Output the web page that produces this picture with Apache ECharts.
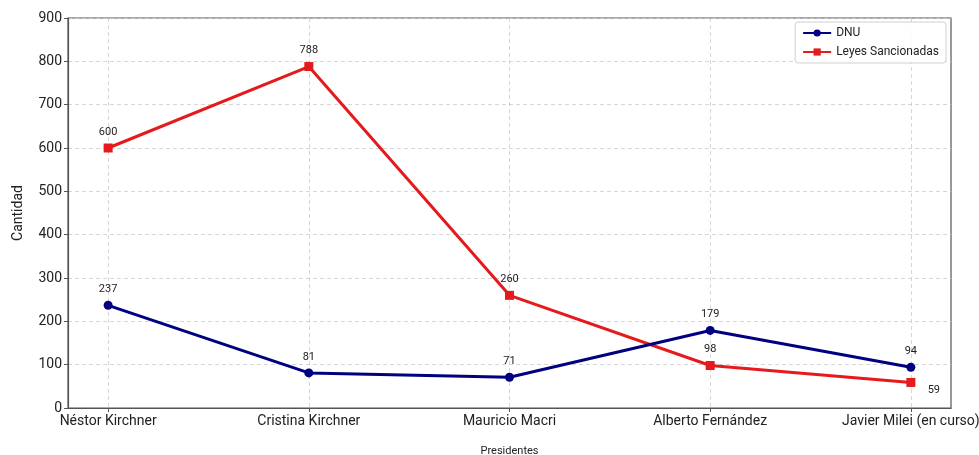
<!DOCTYPE html>
<html><head><meta charset="utf-8">
<script src="https://cdn.jsdelivr.net/npm/echarts@6/dist/echarts.min.js"></script>
<style>html,body{margin:0;padding:0;background:#fff}#c{width:979px;height:455px}</style>
</head><body><div id="c"></div>
<script>
const categories = ['Néstor Kirchner','Cristina Kirchner','Mauricio Macri','Alberto Fernández','Javier Milei (en curso)'];
const dnu = [237, 81, 71, 179, 94];
const leyes = [600, 788, 260, 98, 59];
const yTicks = [0,100,200,300,400,500,600,700,800,900];

const FONT = 'Roboto';
const chart = echarts.init(document.getElementById('c'));
const idx = categories.map((_, i) => i);
chart.setOption({
  animation: false,
  textStyle: {fontFamily: FONT},
  grid: {left: 68, right: 28, top: 18, bottom: 47, show: true, borderColor: '#555', borderWidth: 1.2, containLabel: false, outerBoundsMode: 'none'},
  legend: {
    right: 33, top: 22, orient: 'vertical',
    data: ['DNU', 'Leyes Sancionadas'],
    itemWidth: 28, itemHeight: 9, itemGap: 7,
    textStyle: {fontFamily: FONT, fontSize: 12, color: '#222'},
    borderColor: '#d0d0d0', borderWidth: 1, borderRadius: 3, padding: [5, 7, 5, 7],
    backgroundColor: 'rgba(255,255,255,0.9)'
  },
  xAxis: {
    type: 'value', min: -0.2, max: 4.2,
    name: 'Presidentes', nameLocation: 'middle', nameGap: 38,
    nameTextStyle: {fontFamily: FONT, fontSize: 11, color: '#222'},
    axisLine: {show: true, onZero: false, lineStyle: {color: '#555', width: 1.2}},
    axisTick: {show: true, customValues: idx, length: 4, lineStyle: {color: '#555'}},
    axisLabel: {customValues: idx, formatter: v => categories[Math.round(v)], fontFamily: FONT, fontSize: 14, color: '#222', margin: 6},
    splitLine: {show: true, lineStyle: {color: '#cccccc', type: [4, 3], width: 0.8}}
  },
  yAxis: {
    type: 'value', min: 0, max: 900, interval: 100,
    name: 'Cantidad', nameLocation: 'middle', nameGap: 43,
    nameTextStyle: {fontFamily: FONT, fontSize: 14, color: '#222'},
    axisLine: {show: true, onZero: false, lineStyle: {color: '#555', width: 1.2}},
    axisTick: {show: true, length: 4, lineStyle: {color: '#555'}},
    axisLabel: {fontFamily: FONT, fontSize: 14, color: '#222', margin: 6, formatter: v => yTicks.includes(v) ? String(v) : ''},
    splitLine: {show: true, lineStyle: {color: '#cccccc', type: [4, 3], width: 0.8}}
  },
  series: [
    {
      name: 'DNU', type: 'line',
      data: dnu.map((v, i) => [i, v]),
      symbol: 'circle', symbolSize: 9,
      lineStyle: {color: '#000080', width: 3},
      itemStyle: {color: '#000080'},
      label: {show: true, position: 'top', distance: 6, fontFamily: FONT, fontSize: 11, color: '#222', formatter: p => String(p.value[1])},
      z: 3
    },
    {
      name: 'Leyes Sancionadas', type: 'line',
      data: leyes.map((v, i) => {
        const d = {value: [i, v]};
        if (i === 4) d.label = {position: 'inside', offset: [23, 8]};
        return d;
      }),
      symbol: 'rect', symbolSize: 9,
      lineStyle: {color: '#e41a1c', width: 3},
      itemStyle: {color: '#e41a1c'},
      label: {show: true, position: 'top', distance: 6, fontFamily: FONT, fontSize: 11, color: '#222', formatter: p => String(p.value[1])},
      z: 2
    }
  ]
});
</script></body></html>
